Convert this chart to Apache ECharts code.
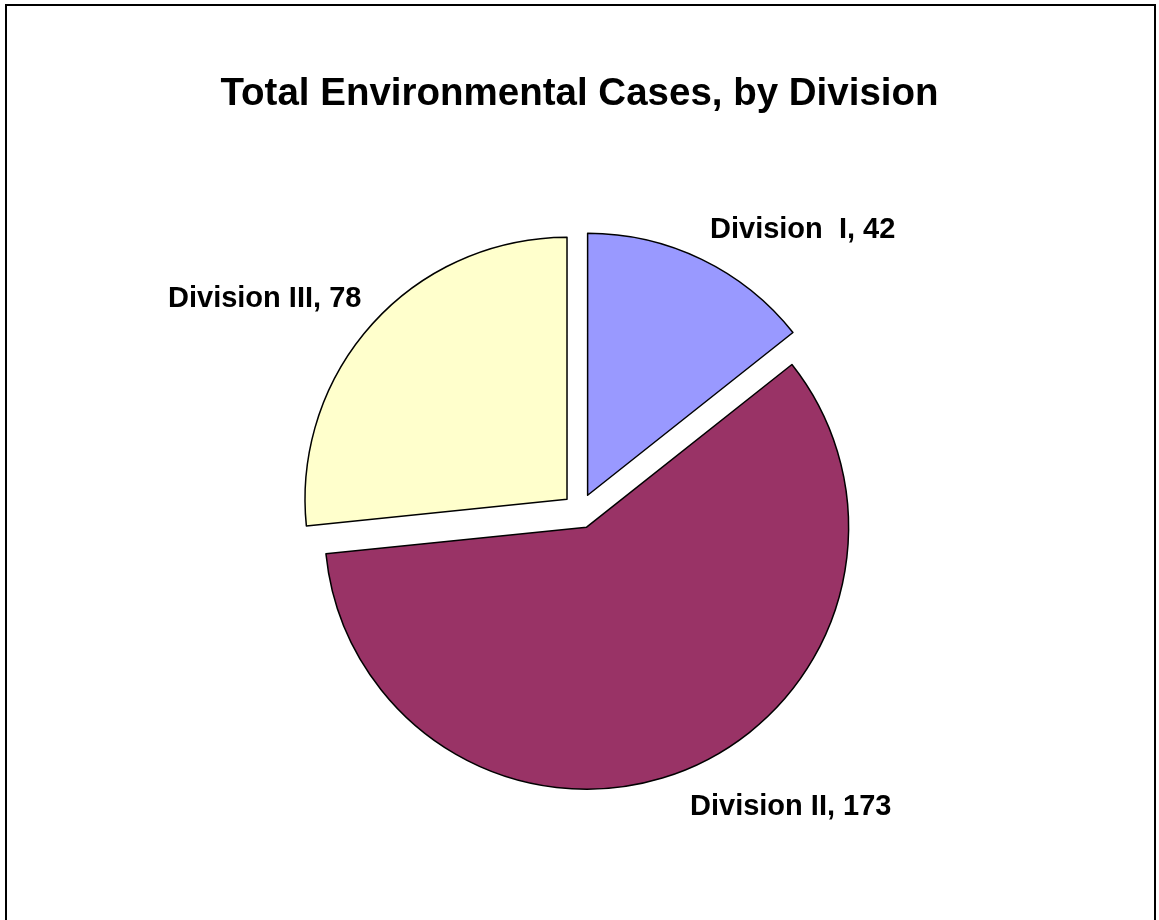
<!DOCTYPE html>
<html>
<head>
<meta charset="utf-8">
<script src="https://cdn.jsdelivr.net/npm/echarts@6/dist/echarts.min.js"></script>
<style>
html,body{margin:0;padding:0;background:#fff;}
#chart{width:1159px;height:920px;}
</style>
</head>
<body>
<div id="chart"></div>
<script>
const titleText = 'Total Environmental Cases, by Division';
const categories = ['Division  I', 'Division II', 'Division III'];
const values = [42, 173, 78];
const colors = ['#9999FF', '#993366', '#FFFFCC'];

const chart = echarts.init(document.getElementById('chart'));
const FONT = '"Liberation Sans", Arial, sans-serif';
const labelPos = [
  {x: 710, y: 230},
  {x: 690, y: 807},
  {x: 168, y: 299}
];
chart.setOption({
  animation: false,
  backgroundColor: '#fff',
  title: {
    text: titleText,
    left: 'center',
    top: 70,
    textStyle: {fontFamily: FONT, fontSize: 38.5, fontWeight: 'bold', color: '#000'}
  },
  graphic: [{
    type: 'rect',
    shape: {x: 6, y: 5, width: 1149, height: 940},
    style: {fill: 'none', stroke: '#000', lineWidth: 2},
    silent: true
  }],
  series: [{
    type: 'pie',
    center: [580, 511],
    radius: 262,
    startAngle: 90,
    clockwise: true,
    selectedMode: 'multiple',
    selectedOffset: 17.5,
    avoidLabelOverlap: false,
    emphasis: {disabled: true},
    itemStyle: {borderColor: '#000', borderWidth: 1.5},
    select: {itemStyle: {borderColor: '#000', borderWidth: 1.5}},
    label: {show: false},
    labelLine: {show: false},
    data: categories.map((c, i) => ({
      name: c,
      value: values[i],
      selected: true,
      itemStyle: {color: colors[i]}
    }))
  }, {
    type: 'pie',
    center: [580, 511],
    radius: 262,
    startAngle: 90,
    silent: true,
    avoidLabelOverlap: false,
    emphasis: {disabled: true},
    itemStyle: {color: 'transparent', borderWidth: 0},
    label: {
      show: true,
      position: 'outside',
      formatter: p => p.name + ', ' + p.value,
      fontFamily: FONT,
      fontSize: 29,
      fontWeight: 'bold',
      color: '#000'
    },
    labelLine: {show: false},
    labelLayout: function (params) {
      const pos = labelPos[params.dataIndex];
      return {x: pos.x, y: pos.y, align: 'left', verticalAlign: 'middle'};
    },
    data: categories.map((c, i) => ({name: c, value: values[i]}))
  }]
});
</script>
</body>
</html>
